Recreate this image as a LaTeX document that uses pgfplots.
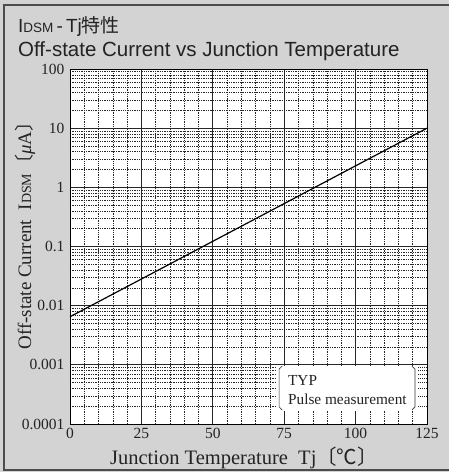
\documentclass[border=0pt]{standalone}
\usepackage{pgfplots}
\pgfplotsset{compat=1.18}
\usepackage{fontspec}
\setmainfont{Liberation Serif}
\newfontfamily\sans{Liberation Sans}
\newfontfamily\cjk{Noto Sans CJK JP}
\definecolor{panel}{RGB}{211,211,211}
\definecolor{ink}{RGB}{35,35,35}
\begin{document}
\begin{tikzpicture}
% panel behind the chart
\fill[panel] (-70pt,-48pt) rectangle (379pt,424pt);
\draw[black!70, line width=1.5pt] (390pt,419pt) -- (-66pt,419pt) -- (-66pt,-46pt) -- (390pt,-46pt);
\node[anchor=base west, inner sep=0pt, text=ink, font=\sans\fontsize{19}{22}\selectfont]
  at (-52pt,391pt) {I{\fontsize{13.5}{16}\selectfont DSM}\,-\,Tj{\cjk 特性}};
\node[anchor=base west, inner sep=0pt, text=ink, font=\sans\fontsize{20.5}{24}\selectfont]
  at (-52pt,367pt) {Off-state Current vs Junction Temperature};

\begin{axis}[
    at={(0pt,0pt)}, anchor=south west,
    scale only axis,
    width=357pt, height=355pt,
    ymode=log, log basis y=10,
    xmin=0, xmax=125,
    ymin=1e-4, ymax=100,
    xtick={0,25,50,75,100,125},
    xticklabels={0,25,50,75,100,125},
    ytick={1e-4,1e-3,1e-2,1e-1,1,10,100},
    yticklabels={0.0001,0.001,0.01,0.1,1,10,100},
    minor x tick num=4,
    minor ytick={2e-4,3e-4,4e-4,5e-4,6e-4,7e-4,8e-4,9e-4,
                 2e-3,3e-3,4e-3,5e-3,6e-3,7e-3,8e-3,9e-3,
                 0.02,0.03,0.04,0.05,0.06,0.07,0.08,0.09,
                 0.2,0.3,0.4,0.5,0.6,0.7,0.8,0.9,
                 2,3,4,5,6,7,8,9,
                 20,30,40,50,60,70,80,90},
    xmajorgrids=true, ymajorgrids=true,
    xminorgrids=true, yminorgrids=true,
    major grid style={black!85, line width=0.9pt},
    minor grid style={black!85, line width=0.45pt, dash pattern=on 1.3pt off 1pt},
    major tick length=0pt, minor tick length=0pt,
    axis line style={black, line width=0.9pt},
    axis background/.style={fill=white},
    tick label style={text=ink, font=\fontsize{15.5}{17}\selectfont},
    xticklabel style={yshift=-1pt},
    yticklabel style={xshift=-2pt},
    clip=false,
]
\addplot[black, line width=1.2pt] coordinates {
  (0,0.0065) (25,0.0282) (50,0.1224) (75,0.531) (100,2.31) (125,10.0)
};
% note box
\fill[white] (axis cs:72.3,0.000168) rectangle (axis cs:121.7,0.00097);
\draw[black!80, line width=0.6pt]
  (axis cs:74.3,0.00095) -- (axis cs:73.2,0.00085) -- (axis cs:73.2,0.000195) -- (axis cs:74.3,0.000172);
\draw[black!80, line width=0.6pt]
  (axis cs:119.7,0.00095) -- (axis cs:120.8,0.00085) -- (axis cs:120.8,0.000195) -- (axis cs:119.7,0.000172);
\node[anchor=base west, inner sep=0pt, text=ink, font=\fontsize{15.3}{17}\selectfont]
  at (axis cs:76.3,0.00044) {TYP};
\node[anchor=base west, inner sep=0pt, text=ink, font=\fontsize{15.3}{17}\selectfont]
  at (axis cs:76.3,0.000215) {Pulse measurement};
\end{axis}

\node[text=ink, font=\fontsize{20.5}{22}\selectfont] at (244pt-70pt,-34pt)
  {Junction Temperature\ \ Tj{\cjk 〔℃〕}};
\node[text=ink, rotate=90, font=\fontsize{19}{21}\selectfont] at (-45pt,193pt)
  {Off-state Current\ \ I{\fontsize{14}{16}\selectfont DSM}{\cjk 〔}\textit{μ}A{\cjk 〕}};

\pgfresetboundingbox
\path[use as bounding box] (-70pt,-48pt) rectangle (379pt,424pt);
\end{tikzpicture}
\end{document}
